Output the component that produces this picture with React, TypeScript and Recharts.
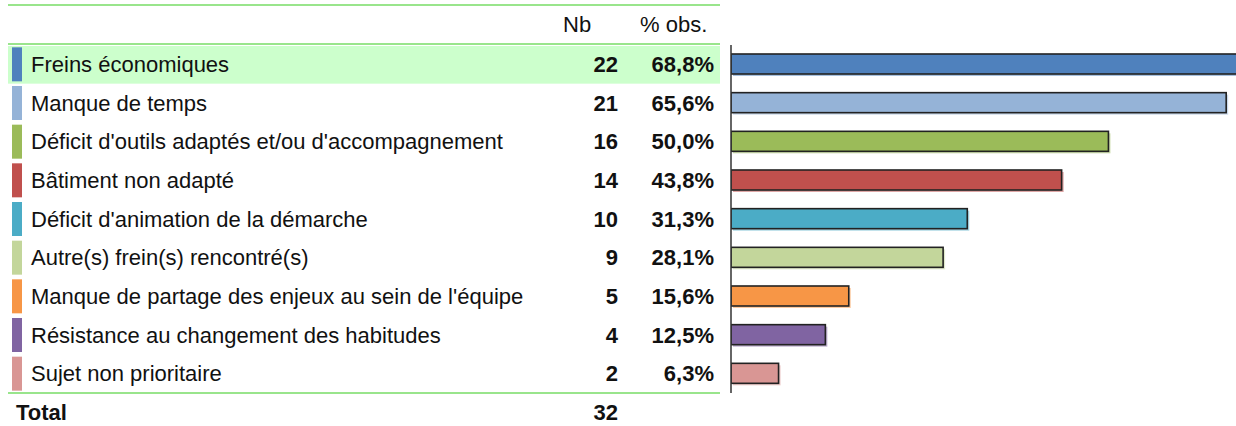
import React from 'react';
import { BarChart, Bar, XAxis, YAxis } from 'recharts';

const labels = [
  'Freins économiques',
  'Manque de temps',
  "Déficit d'outils adaptés et/ou d'accompagnement",
  'Bâtiment non adapté',
  "Déficit d'animation de la démarche",
  'Autre(s) frein(s) rencontré(s)',
  "Manque de partage des enjeux au sein de l'équipe",
  'Résistance au changement des habitudes',
  'Sujet non prioritaire',
];
const counts = [22, 21, 16, 14, 10, 9, 5, 4, 2];
const percents = [68.8, 65.6, 50.0, 43.8, 31.3, 28.1, 15.6, 12.5, 6.3];
const colors = ['#4f81bd', '#95b3d7', '#9bbb59', '#c0504d', '#4bacc6', '#c3d69b', '#f79646', '#8064a2', '#d99694'];
const total = 32;

const data = labels.map((label, i) => ({ label, nb: counts[i], pct: percents[i], color: colors[i] }));

const FONT = '"Liberation Sans", Arial, sans-serif';
const GREEN = '#77dd66';
const ROW_H = 348 / 9;
const FS = 22;

const RowTick = (props: any) => {
  const { y, payload } = props;
  const i = payload.index;
  const row = data[i];
  if (!row) return null;
  return (
    <g>
      {i === 0 && <rect x={8} y={y - ROW_H / 2 + 1} width={712} height={ROW_H - 1} fill="#ccffcc" />}
      <rect x={12} y={y - 17} width={10} height={34} fill={row.color} />
      <text x={31} y={y} dy="0.35em" fontSize={FS} fill="#111" fontFamily={FONT}>{row.label}</text>
      <text x={618} y={y} dy="0.35em" fontSize={FS} fontWeight="bold" textAnchor="end" fill="#111" fontFamily={FONT}>{row.nb}</text>
      <text x={714} y={y} dy="0.35em" fontSize={FS} fontWeight="bold" textAnchor="end" fill="#111" fontFamily={FONT}>
        {row.pct.toFixed(1).replace('.', ',')}%
      </text>
    </g>
  );
};

const ShadowBar = (props: any) => {
  const { x, y, width, height, payload } = props;
  return (
    <g>
      <rect x={x + 2} y={y + 2} width={width} height={height} fill={payload.color} opacity={0.5} />
      <rect x={x} y={y} width={width} height={height} fill={payload.color} stroke="#222" strokeWidth={1.6} />
    </g>
  );
};

export default function App() {
  return (
    <div style={{ position: 'absolute', left: 0, top: 0, width: 1236, height: 426, background: '#fff', fontFamily: FONT }}>
      <svg width={1236} height={426} style={{ position: 'absolute', left: 0, top: 0 }}>
        <line x1={8} x2={720} y1={5} y2={5} stroke={GREEN} strokeWidth={1.5} />
        <line x1={8} x2={720} y1={44} y2={44} stroke={GREEN} strokeWidth={1.5} />
        <line x1={8} x2={720} y1={393} y2={393} stroke={GREEN} strokeWidth={1.5} />
        <text x={563} y={24} dy="0.35em" fontSize={FS} fill="#111" fontFamily={FONT}>Nb</text>
        <text x={640} y={24} dy="0.35em" fontSize={FS} fill="#111" fontFamily={FONT}>% obs.</text>
        <text x={16} y={412} dy="0.35em" fontSize={FS} fontWeight="bold" fill="#111" fontFamily={FONT}>Total</text>
        <text x={618} y={412} dy="0.35em" fontSize={FS} fontWeight="bold" textAnchor="end" fill="#111" fontFamily={FONT}>{total}</text>
      </svg>
      <div style={{ position: 'absolute', left: 0, top: 0 }}>
        <BarChart width={1236} height={426} data={data} layout="vertical" margin={{ top: 45, right: 0, bottom: 33, left: 0 }}>
          <XAxis type="number" hide domain={[0, 66.9]} allowDataOverflow />
          <YAxis
            type="category"
            dataKey="label"
            width={731}
            tick={RowTick}
            tickLine={false}
            axisLine={{ stroke: '#333', strokeWidth: 1.5 }}
            interval={0}
          />
          <Bar dataKey="pct" barSize={20} shape={ShadowBar} isAnimationActive={false} />
        </BarChart>
      </div>
    </div>
  );
}
